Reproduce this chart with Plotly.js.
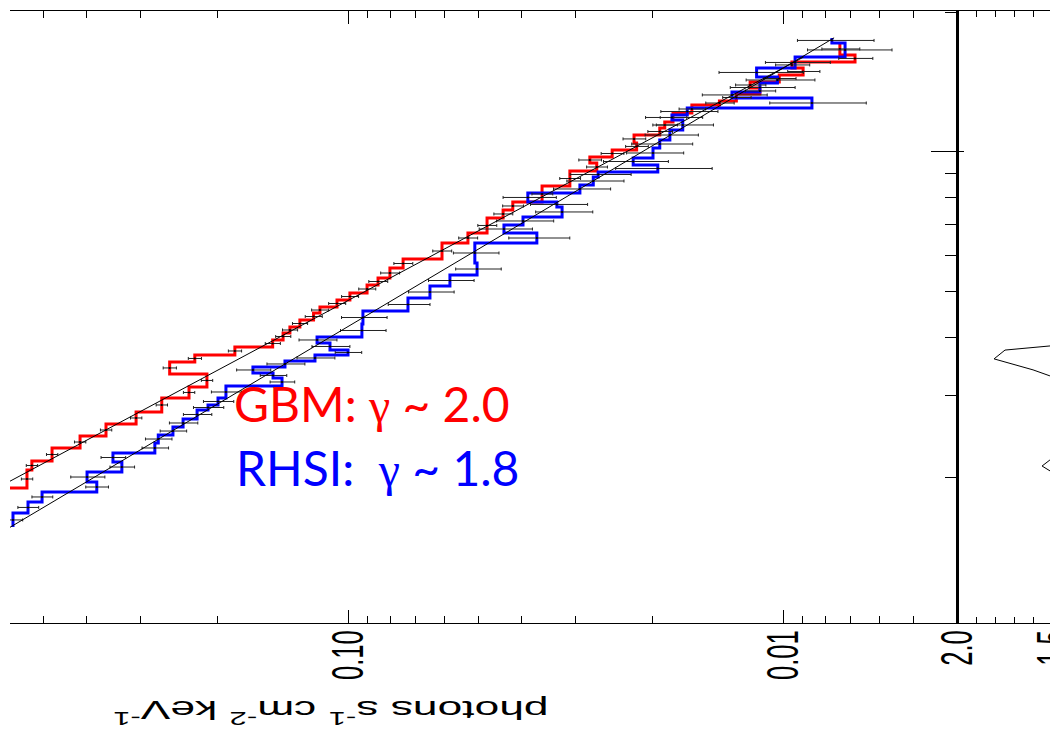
<!DOCTYPE html>
<html>
<head>
<meta charset="utf-8">
<script src="https://cdn.plot.ly/plotly-3.0.1.min.js"></script>
<style>
  html, body { margin: 0; padding: 0; background: #ffffff; overflow: hidden; }
  #chart { width: 1060px; height: 729px; }
</style>
</head>
<body>
<div id="chart"></div>
<script>
// ---------------- data ----------------
// GBM (red) energy bin edges, keV
const gbmEdges = [17.85, 18.94, 20.71, 21.65, 23.09, 24.50, 26.01, 27.60, 29.58, 31.24,
  33.32, 35.36, 36.60, 38.08, 39.42, 40.81, 42.04, 43.52, 45.05, 46.41,
  48.05, 49.74, 51.76, 53.58, 56.30, 58.87, 63.72, 66.96, 72.13, 75.04,
  78.08, 84.50, 91.01, 94.69, 97.55, 101.0, 104.6, 108.8, 112.6, 116.0,
  121.3, 126.2, 128.7, 133.3, 137.3, 141.4, 146.4, 151.6, 156.2, 161.7, 171.6];
// GBM photon flux per bin, photons s^-1 cm^-2 keV^-1
const gbmFlux = [0.631, 0.547, 0.533, 0.479, 0.413, 0.360, 0.307, 0.268, 0.232, 0.211,
  0.257, 0.225, 0.182, 0.149, 0.141, 0.136, 0.129, 0.120, 0.116, 0.106,
  0.099, 0.0904, 0.0853, 0.0801, 0.0747, 0.0608, 0.0530, 0.0479, 0.0440, 0.0418,
  0.0358, 0.0309, 0.0268, 0.0278, 0.0247, 0.0217, 0.0220, 0.0192, 0.0187, 0.0179,
  0.0162, 0.0140, 0.0128, 0.0113, 0.0119, 0.0102, 0.00899, 0.00954, 0.00683, 0.00740];
// GBM relative flux uncertainty per bin
const gbmRelErr = [0.03, 0.03, 0.03, 0.03, 0.03, 0.03, 0.03, 0.03, 0.03, 0.03,
  0.035, 0.035, 0.035, 0.04, 0.04, 0.04, 0.04, 0.045, 0.045, 0.045,
  0.045, 0.045, 0.05, 0.05, 0.05, 0.05, 0.05, 0.05, 0.05, 0.055,
  0.055, 0.055, 0.055, 0.06, 0.06, 0.06, 0.06, 0.065, 0.065, 0.07,
  0.07, 0.075, 0.075, 0.08, 0.08, 0.085, 0.085, 0.09, 0.09, 0.1];

// RHESSI (blue) energy bin edges, keV
const rhsiEdges = [15.62, 16.74, 17.68, 18.57, 19.51, 20.50, 21.54, 22.53, 23.67, 24.62,
  25.62, 26.66, 27.87, 28.57, 29.58, 31.39, 32.66, 33.48, 34.49, 35.53,
  36.60, 37.52, 38.84, 40.01, 42.67, 45.50, 48.53, 51.50, 54.38, 57.72,
  63.72, 66.96, 69.66, 72.49, 76.17, 78.08, 81.64, 84.92, 88.35, 90.58,
  93.76, 97.07, 102.0, 106.1, 111.5, 117.2, 120.1, 124.3, 130.7, 134.6,
  140.7, 145.0, 151.6, 160.1, 171.6, 175.9];
const rhsiFlux = [0.589, 0.544, 0.505, 0.378, 0.398, 0.331, 0.347, 0.278, 0.273, 0.2526,
  0.2394, 0.2223, 0.2098, 0.1990, 0.1908, 0.1418, 0.1487, 0.1654, 0.1396, 0.1191,
  0.1000, 0.1100, 0.1178, 0.0929, 0.0924, 0.0728, 0.0648, 0.0583, 0.0505, 0.0511,
  0.0368, 0.0438, 0.0396, 0.0322, 0.0331, 0.0386, 0.0293, 0.0273, 0.0266, 0.0194,
  0.0221, 0.0199, 0.0192, 0.0182, 0.0170, 0.0180, 0.0166, 0.00858, 0.0131, 0.0113,
  0.0103, 0.0115, 0.00938, 0.00720, 0.00772];
const rhsiRelErr = [0.05, 0.055, 0.055, 0.06, 0.09, 0.065, 0.065, 0.07, 0.07, 0.07,
  0.075, 0.075, 0.08, 0.08, 0.08, 0.065, 0.07, 0.09, 0.1, 0.1,
  0.07, 0.1, 0.1, 0.12, 0.12, 0.11, 0.12, 0.12, 0.12, 0.12,
  0.16, 0.14, 0.15, 0.15, 0.15, 0.14, 0.15, 0.15, 0.16, 0.25,
  0.17, 0.15, 0.16, 0.14, 0.15, 0.15, 0.15, 0.25, 0.17, 0.17,
  0.18, 0.22, 0.17, 0.22, 0.2];

// power-law fits (end points)
const gbmModelE = [10, 160];
const gbmModelF = [2.297, 0.00897];
const rhsiModelE = [10, 176];
const rhsiModelF = [1.331, 0.00763];

// index panel curves (index, energy keV)
const idxCurveA = [1.4635, 1.516, 1.750, 1.807, 1.604, 1.516, 1.4635];
const idxCurveAE = [38.45, 38.3, 37.5, 35.9, 34.0, 33.0, 32.4];
const idxCurveB = [1.4635, 1.516, 1.557, 1.516, 1.4635];
const idxCurveBE = [22.1, 21.76, 21.12, 20.6, 20.0];

// axis ticks
const fluxTicks = [0.1, 0.01];
const fluxTickText = ['0.10', '0.01'];
const fluxMinor = [0.6, 0.5, 0.4, 0.3, 0.2, 0.09, 0.08, 0.07, 0.06, 0.05, 0.04, 0.03, 0.02,
  0.009, 0.008, 0.007, 0.006, 0.005, 0.004];
const energyMajor = [100];
const energyMinor = [20, 30, 40, 50, 60, 70, 80, 90, 200];
const indexTicks = [2.0, 1.5];
const indexTickText = ['2.0', '1.5'];
const indexMinor = [1.9, 1.8, 1.7, 1.6, 1.4];

// ---------------- helpers ----------------
function stepPath(edges, flux) {
  const x = [], y = [];
  for (let i = 0; i < flux.length; i++) {
    x.push(flux[i]); y.push(edges[i]);
    x.push(flux[i]); y.push(edges[i + 1]);
  }
  return {x, y};
}
function centers(edges) {
  const c = [];
  for (let i = 0; i < edges.length - 1; i++) c.push(Math.sqrt(edges[i] * edges[i + 1]));
  return c;
}
function absErr(flux, rel) { return flux.map((f, i) => f * rel[i]); }

const gbmStep = stepPath(gbmEdges, gbmFlux);
const rhsiStep = stepPath(rhsiEdges, rhsiFlux);

const RED = '#ff0000', BLUE = '#0000ff';

const traces = [
  {x: gbmStep.x, y: gbmStep.y, mode: 'lines', line: {color: RED, width: 3}, xaxis: 'x', yaxis: 'y', hoverinfo: 'skip'},
  {x: rhsiStep.x, y: rhsiStep.y, mode: 'lines', line: {color: BLUE, width: 3}, xaxis: 'x', yaxis: 'y', hoverinfo: 'skip'},
  {x: gbmFlux, y: centers(gbmEdges), mode: 'markers', marker: {size: 2, color: '#000'},
   error_x: {type: 'data', array: absErr(gbmFlux, gbmRelErr), visible: true, color: '#222', thickness: 1, width: 1.5},
   xaxis: 'x', yaxis: 'y', hoverinfo: 'skip'},
  {x: rhsiFlux, y: centers(rhsiEdges), mode: 'markers', marker: {size: 2, color: '#000'},
   error_x: {type: 'data', array: absErr(rhsiFlux, rhsiRelErr), visible: true, color: '#222', thickness: 1, width: 1.5},
   xaxis: 'x', yaxis: 'y', hoverinfo: 'skip'},
  {x: gbmModelF, y: gbmModelE, mode: 'lines', line: {color: '#000', width: 1}, xaxis: 'x', yaxis: 'y', hoverinfo: 'skip'},
  {x: rhsiModelF, y: rhsiModelE, mode: 'lines', line: {color: '#000', width: 1}, xaxis: 'x', yaxis: 'y', hoverinfo: 'skip'},
  {x: idxCurveA, y: idxCurveAE, mode: 'lines', line: {color: '#000', width: 1}, xaxis: 'x2', yaxis: 'y2', hoverinfo: 'skip'},
  {x: idxCurveB, y: idxCurveBE, mode: 'lines', line: {color: '#000', width: 1}, xaxis: 'x2', yaxis: 'y2', hoverinfo: 'skip'}
];

// layout geometry (pixels of the plotting area)
const W = 1060, H = 729, ML = 10, MR = 0, MT = 11, MB = 106;
const plotW = W - ML - MR, plotH = H - MT - MB;
const px2x = p => (p - ML) / plotW;
const px2y = p => (H - MB - p) / plotH;
const split = px2x(957);

const tickFont = {family: 'Liberation Sans, Arial, sans-serif', size: 25.6, color: '#000'};
const eRange = [0.9871, 2.3032];

const layout = {
  width: W, height: H,
  margin: {l: ML, r: MR, t: MT, b: MB, pad: 0},
  paper_bgcolor: '#fff', plot_bgcolor: '#fff',
  showlegend: false,
  hovermode: false,
  font: {family: 'Liberation Sans, Arial, sans-serif', color: '#000'},
  xaxis: {
    type: 'log', domain: [0, split], range: [-0.2230, -2.4], anchor: 'y',
    showline: true, linecolor: '#000', linewidth: 1, mirror: 'ticks',
    ticks: 'inside', ticklen: 13, tickwidth: 1, tickcolor: '#000',
    tickmode: 'array', tickvals: fluxTicks, ticktext: fluxTickText,
    tickangle: -90, tickfont: tickFont, ticklabelstandoff: -4,
    showgrid: false, zeroline: false,
    minor: {tickmode: 'array', tickvals: fluxMinor, ticks: 'inside', ticklen: 7, tickwidth: 1, tickcolor: '#000', showgrid: false}
  },
  yaxis: {
    type: 'log', range: eRange, anchor: 'x', side: 'right',
    showline: true, linecolor: '#000', linewidth: 1.5, mirror: false,
    ticks: 'inside', ticklen: 26, tickwidth: 1, tickcolor: '#000',
    tickmode: 'array', tickvals: energyMajor, showticklabels: false,
    showgrid: false, zeroline: false,
    minor: {tickmode: 'array', tickvals: energyMinor, ticks: 'inside', ticklen: 12, tickwidth: 1, tickcolor: '#000', showgrid: false}
  },
  xaxis2: {
    domain: [split, 1], range: [2.0, 1.4635], anchor: 'y2',
    showline: true, linecolor: '#000', linewidth: 1, mirror: 'ticks',
    ticks: 'inside', ticklen: 13, tickwidth: 1, tickcolor: '#000',
    tickmode: 'array', tickvals: indexTicks, ticktext: indexTickText,
    tickangle: -90, tickfont: tickFont, ticklabelstandoff: -4, ticklabeloverflow: 'allow',
    showgrid: false, zeroline: false,
    minor: {tickmode: 'array', tickvals: indexMinor, ticks: 'inside', ticklen: 6, tickwidth: 1, tickcolor: '#000', showgrid: false}
  },
  yaxis2: {
    type: 'log', range: eRange, anchor: 'x2', side: 'left',
    showline: true, linecolor: '#000', linewidth: 1.5,
    ticks: 'inside', ticklen: 7, tickwidth: 1, tickcolor: '#000',
    tickmode: 'array', tickvals: energyMajor, showticklabels: false,
    showgrid: false, zeroline: false
  },
  annotations: [
    {xref: 'paper', yref: 'paper', x: px2x(331), y: px2y(712), xanchor: 'center', yanchor: 'middle',
     text: 'photons s<sup>-1</sup> cm<sup>-2</sup> keV<sup>-1</sup>', textangle: 180, showarrow: false,
     font: {family: 'Liberation Sans, Arial, sans-serif', size: 25.5, color: '#000'}},
    {xref: 'paper', yref: 'paper', x: px2x(232), y: px2y(404), xanchor: 'left', yanchor: 'middle',
     text: 'GBM: <span style="font-family:\'Liberation Serif\'">γ</span> ~ 2.0', showarrow: false,
     font: {family: 'Lato, Liberation Sans, sans-serif', size: 48, color: RED}},
    {xref: 'paper', yref: 'paper', x: px2x(234), y: px2y(467), xanchor: 'left', yanchor: 'middle',
     text: 'RHSI:\u00a0 <span style="font-family:\'Liberation Serif\'">γ</span> ~ 1.8', showarrow: false,
     font: {family: 'Lato, Liberation Sans, sans-serif', size: 48, color: BLUE}}
  ]
};

function stretchX(el, sx) {
  const svg = el.ownerSVGElement;
  const parent = el.parentNode;
  const r = el.getBoundingClientRect();
  const pt = svg.createSVGPoint();
  pt.x = (r.left + r.right) / 2; pt.y = (r.top + r.bottom) / 2;
  const q = pt.matrixTransform(parent.getScreenCTM().inverse());
  const g = document.createElementNS('http://www.w3.org/2000/svg', 'g');
  g.setAttribute('transform', 'translate(' + q.x + ',' + q.y + ') scale(' + sx + ',1) translate(' + (-q.x) + ',' + (-q.y) + ')');
  parent.insertBefore(g, el);
  g.appendChild(el);
}

Plotly.newPlot('chart', traces, layout, {displayModeBar: false, staticPlot: true}).then(function (gd) {
  try {
    const SX = 1.74;
    gd.querySelectorAll('g.xtick text, g.x2tick text').forEach(t => stretchX(t, SX));
    gd.querySelectorAll('text.annotation-text').forEach(t => {
      if (t.textContent.indexOf('photons') >= 0) stretchX(t, SX);
    });
  } catch (e) { console.log(e); }
});
</script>
</body>
</html>
